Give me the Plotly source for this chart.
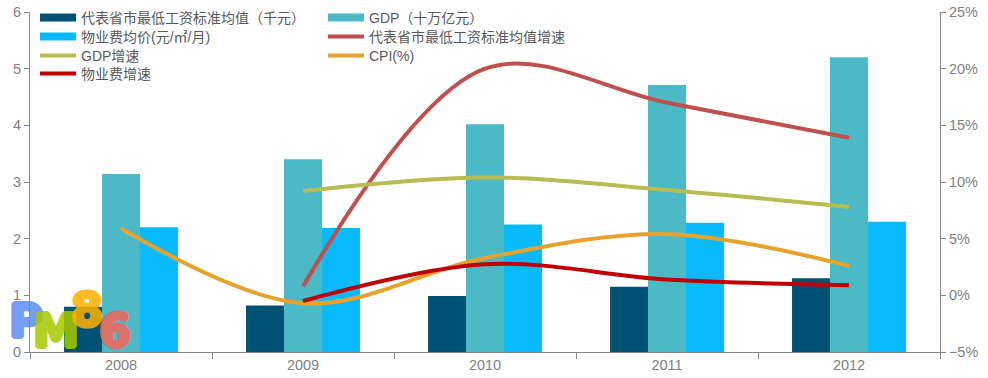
import plotly.graph_objects as go

years = ["2008", "2009", "2010", "2011", "2012"]
min_wage = [0.80, 0.82, 0.99, 1.15, 1.30]          # 代表省市最低工资标准均值（千元）
gdp = [3.14, 3.40, 4.02, 4.71, 5.20]               # GDP（十万亿元）
fee_price = [2.20, 2.19, 2.25, 2.28, 2.30]         # 物业费均价(元/㎡/月)

wage_growth = [None, 0.8, 20.0, 17.0, 13.9]        # 代表省市最低工资标准均值增速 (%)
gdp_growth = [None, 9.2, 10.4, 9.3, 7.8]           # GDP增速 (%)
cpi = [5.9, -0.7, 3.3, 5.4, 2.6]                   # CPI(%)
fee_growth = [None, -0.5, 2.75, 1.4, 0.9]          # 物业费增速 (%)

names_bar = ["代表省市最低工资标准均值（千元）", "GDP（十万亿元）", "物业费均价(元/㎡/月)"]
colors_bar = ["#005274", "#4BBAC6", "#0ABAFF"]
names_line = ["代表省市最低工资标准均值增速", "GDP增速", "CPI(%)", "物业费增速"]
colors_line = ["#C0504D", "#BABB52", "#E8A22B", "#C00000"]

FONT = "Liberation Sans, Arial, Noto Sans CJK SC, sans-serif"

fig = go.Figure()
for vals, nm, c in zip([min_wage, gdp, fee_price], names_bar, colors_bar):
    fig.add_trace(go.Bar(x=years, y=vals, name=nm, marker_color=c, marker_line_width=0,
                         showlegend=False, yaxis="y"))

for vals, nm, c in zip([wage_growth, gdp_growth, cpi, fee_growth], names_line, colors_line):
    fig.add_trace(go.Scatter(x=years, y=vals, name=nm, mode="lines",
                             line=dict(color=c, width=4, shape="spline", smoothing=1.0),
                             yaxis="y2", showlegend=False, connectgaps=False))

# legend entries: (name, colour, swatch thickness, column, row)
legend_entries = [
    (names_bar[0], colors_bar[0], 8, 0, 0),
    (names_bar[1], colors_bar[1], 8, 1, 0),
    (names_bar[2], colors_bar[2], 8, 0, 1),
    (names_line[0], colors_line[0], 4, 1, 1),
    (names_line[1], colors_line[1], 4, 0, 2),
    (names_line[2], colors_line[2], 4, 1, 2),
    (names_line[3], colors_line[3], 4, 0, 3),
]
row_y = [18, 37, 56, 74]
col_x = [35, 323]
legend_layouts = {}
for i, (nm, c, w, col, row) in enumerate(legend_entries):
    key = "legend" if i == 0 else "legend%d" % (i + 1)
    fig.add_trace(go.Scatter(x=[None], y=[None], mode="lines", name=nm,
                             line=dict(color=c, width=w), legend=key, yaxis="y2"))
    legend_layouts[key] = dict(x=(col_x[col] - 30) / 910, y=(352 - row_y[row]) / 340,
                               xanchor="left", yanchor="middle", orientation="v",
                               bgcolor="rgba(0,0,0,0)", itemwidth=36,
                               font=dict(family=FONT, size=14, color="#595959"))

# watermark logo (centre positions in pixels)
logo = [("P", "#5B8CF5", 26, 321), ("M", "#A9C800", 56, 331), ("8", "#FFB000", 87, 310), ("6", "#F2665A", 115, 331)]
for ch, c, px, py in logo:
    sh = ", ".join("%dpx %dpx 0 %s" % (dx, dy, c) for dx, dy in
                   [(2, 0), (-2, 0), (0, 2), (0, -2), (1, 1), (-1, -1), (1, -1), (-1, 1)])
    fig.add_annotation(text="<b>%s</b>" % ch, x=(px - 30) / 910, y=(352 - py) / 340,
                       xref="paper", yref="paper", xanchor="center", yanchor="middle",
                       showarrow=False, opacity=0.85,
                       font=dict(family="DejaVu Sans, sans-serif", size=46, color=c, shadow=sh))

axis_col = "#868686"
tick_font = dict(family=FONT, size=14.5, color="#7F7F7F")
fig.update_layout(
    width=988, height=378,
    margin=dict(l=30, r=48, t=12, b=26, autoexpand=False),
    paper_bgcolor="white", plot_bgcolor="white",
    barmode="group", bargap=0.374, bargroupgap=0,
    font=dict(family=FONT, size=14, color="#595959"),
    xaxis=dict(type="category", showline=True, linecolor=axis_col, linewidth=1,
               ticks="outside", tickson="boundaries", ticklen=6, tickcolor=axis_col,
               tickfont=tick_font, showgrid=False, zeroline=False, automargin=False),
    yaxis=dict(range=[0, 6], dtick=1, showline=True, linecolor=axis_col, linewidth=1,
               ticks="outside", ticklen=5, tickcolor=axis_col, tickfont=tick_font,
               showgrid=False, zeroline=False, automargin=False),
    yaxis2=dict(range=[-5, 25], dtick=5, overlaying="y", side="right", showline=True,
                linecolor=axis_col, linewidth=1, ticks="outside", ticklen=5,
                tickcolor=axis_col, tickfont=tick_font, ticksuffix="%",
                showgrid=False, zeroline=False, automargin=False),
    **legend_layouts,
)

fig.write_html("out.html", config={"displayModeBar": False},
               post_script="document.body.style.margin='0';")
